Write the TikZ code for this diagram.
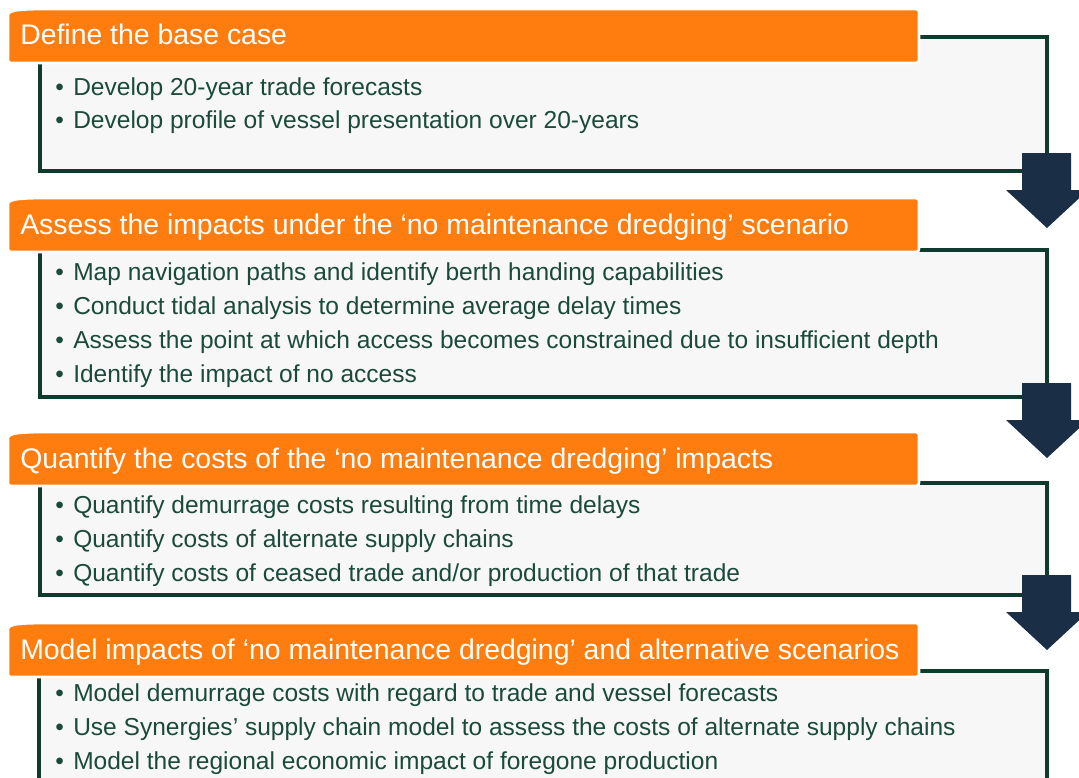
\documentclass[tikz,border=0pt]{standalone}
\usepackage{fontspec}
\setmainfont{Liberation Sans}

\definecolor{headorange}{HTML}{FF7C0E}
\definecolor{panelline}{HTML}{0E3B2E}
\definecolor{panelfill}{HTML}{F7F7F7}
\definecolor{bodygreen}{HTML}{1B4A3C}
\definecolor{arrownavy}{HTML}{1A2E46}

\tikzset{
  panel/.style={draw=panelline, fill=panelfill, line width=2.5pt},
  heading/.style={fill=headorange, draw=white, line width=2pt},
  headtext/.style={anchor=base west, inner sep=0pt, text=white,
    font=\fontsize{21.3}{25}\selectfont},
  bodyline/.style={anchor=base west, inner sep=0pt, text=bodygreen,
    font=\fontsize{18.4}{25.5}\selectfont,
    execute at begin node={\makebox[13.5pt][l]{\textbullet}}},
}

\begin{document}
\begin{tikzpicture}[x=0.75pt, y=-0.75pt]
  \useasboundingbox (0,0) rectangle (1079,778);
  \clip (0,0) rectangle (1079,778);

  % grey panels behind each stage
  \draw[panel] (40,37) rectangle (1047,171);
  \draw[panel] (40,250) rectangle (1047,397);
  \draw[panel] (40,483) rectangle (1047,595);
  \draw[panel] (39,671) rectangle (1047,800);

  % orange heading bars
  \foreach \t/\b in {9/63, 198/252, 432/486, 623/677} {
    \draw[heading] (8,\b-6) -- (8,\t+6) .. controls (8,\t+1) and (20,\t) .. (50,\t)
      -- (912,\t) .. controls (919,\t) .. (919,\t+6) -- (919,\b-6)
      .. controls (919,\b) .. (912,\b) -- (14,\b) .. controls (8,\b) .. (8,\b-6) -- cycle;
  }

  \node[headtext] (head1) at (20,45) {Define the base case};
  \node[headtext] (head2) at (20,234) {Assess the impacts under the ‘no maintenance dredging’ scenario};
  \node[headtext] (head3) at (20,468) {Quantify the costs of the ‘no maintenance dredging’ impacts};
  \node[headtext] (head4) at (20,659) {Model impacts of ‘no maintenance dredging’ and alternative scenarios};

  % bullet lines
  \foreach \txt [count=\i] in {Develop 20-year trade forecasts,
      Develop profile of vessel presentation over 20-years}
    \node[bodyline] (base-\i) at (55,{95+33*(\i-1)}) {\txt};

  \foreach \txt [count=\i] in {Map navigation paths and identify berth handing capabilities,
      Conduct tidal analysis to determine average delay times,
      Assess the point at which access becomes constrained due to insufficient depth,
      Identify the impact of no access}
    \node[bodyline] (assess-\i) at (55,{280+34*(\i-1)}) {\txt};

  \foreach \txt [count=\i] in {Quantify demurrage costs resulting from time delays,
      Quantify costs of alternate supply chains,
      Quantify costs of ceased trade and/or production of that trade}
    \node[bodyline] (cost-\i) at (55,{513+34*(\i-1)}) {\txt};

  \foreach \txt [count=\i] in {Model demurrage costs with regard to trade and vessel forecasts,
      Use Synergies’ supply chain model to assess the costs of alternate supply chains,
      Model the regional economic impact of foregone production}
    \node[bodyline] (model-\i) at (55,{701+34*(\i-1)}) {\txt};

  % down arrows between stages
  \foreach \s in {153, 383, 575}
    \fill[arrownavy] (1022,\s) -- (1071,\s) -- (1071,\s+37) -- (1088,\s+37)
      -- (1047,\s+75) -- (1006,\s+37) -- (1022,\s+37) -- cycle;
\end{tikzpicture}
\end{document}
